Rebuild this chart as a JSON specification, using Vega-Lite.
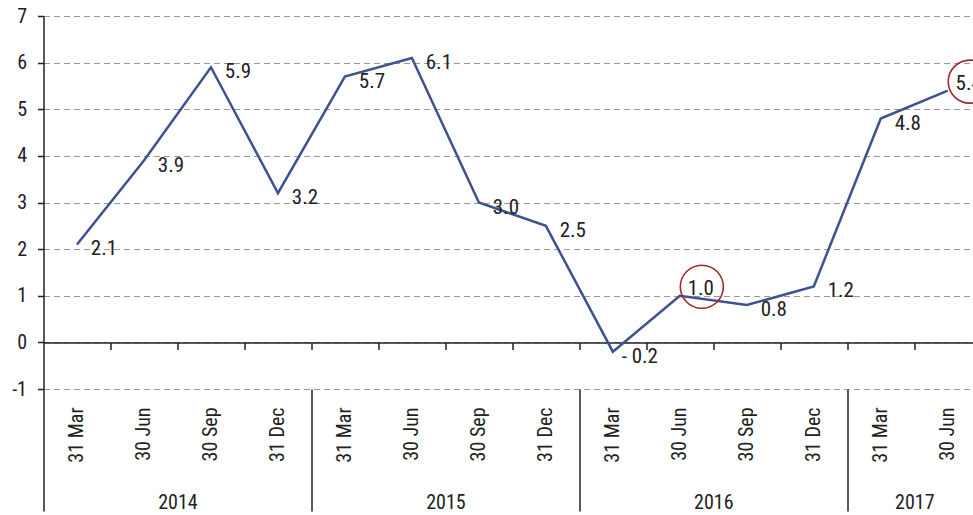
{
  "$schema": "https://vega.github.io/schema/vega-lite/v6.json",
  "width": 929.5,
  "height": 373,
  "autosize": {"type": "none"},
  "padding": {"left": 43.5, "top": 16, "right": 0, "bottom": 126},
  "config": {
    "view": {"stroke": null},
    "font": "Roboto Condensed, Roboto, sans-serif",
    "axis": {"labelFont": "Roboto Condensed, Roboto, sans-serif", "labelColor": "#222222"},
    "text": {"font": "Roboto Condensed, Roboto, sans-serif"}
  },
  "data": {
    "values": [
      {"i": 0, "year": 2014, "quarter": "31 Mar", "value": 2.1, "label": "2.1", "highlight": false},
      {"i": 1, "year": 2014, "quarter": "30 Jun", "value": 3.9, "label": "3.9", "highlight": false},
      {"i": 2, "year": 2014, "quarter": "30 Sep", "value": 5.9, "label": "5.9", "highlight": false},
      {"i": 3, "year": 2014, "quarter": "31 Dec", "value": 3.2, "label": "3.2", "highlight": false},
      {"i": 4, "year": 2015, "quarter": "31 Mar", "value": 5.7, "label": "5.7", "highlight": false},
      {"i": 5, "year": 2015, "quarter": "30 Jun", "value": 6.1, "label": "6.1", "highlight": false},
      {"i": 6, "year": 2015, "quarter": "30 Sep", "value": 3.0, "label": "3.0", "highlight": false},
      {"i": 7, "year": 2015, "quarter": "31 Dec", "value": 2.5, "label": "2.5", "highlight": false},
      {"i": 8, "year": 2016, "quarter": "31 Mar", "value": -0.2, "label": "- 0.2", "highlight": false},
      {"i": 9, "year": 2016, "quarter": "30 Jun", "value": 1.0, "label": "1.0", "highlight": true},
      {"i": 10, "year": 2016, "quarter": "30 Sep", "value": 0.8, "label": "0.8", "highlight": false},
      {"i": 11, "year": 2016, "quarter": "31 Dec", "value": 1.2, "label": "1.2", "highlight": false},
      {"i": 12, "year": 2017, "quarter": "31 Mar", "value": 4.8, "label": "4.8", "highlight": false},
      {"i": 13, "year": 2017, "quarter": "30 Jun", "value": 5.4, "label": "5.4", "highlight": true}
    ]
  },
  "encoding": {
    "y": {
      "field": "value",
      "type": "quantitative",
      "scale": {"domain": [-1, 7], "nice": false, "zero": false},
      "axis": {
        "values": [-1, 0, 1, 2, 3, 4, 5, 6, 7],
        "labelExpr": "'' + datum.value",
        "title": null,
        "grid": true,
        "gridDash": [6, 4],
        "gridColor": "#9a9a9a",
        "gridWidth": 1,
        "domain": true,
        "domainColor": "#222222",
        "domainWidth": 1.5,
        "ticks": true,
        "tickColor": "#222222",
        "tickWidth": 1.5,
        "tickSize": 6,
        "labelFontSize": 20,
        "labelPadding": 11
      }
    }
  },
  "layer": [
    {
      "mark": {"type": "line", "color": "#3f5191", "strokeWidth": 2.5},
      "encoding": {
        "x": {
          "field": "i",
          "type": "quantitative",
          "scale": {"domain": [-0.5, 13.377], "nice": false, "zero": false},
          "axis": {
            "orient": "bottom",
            "title": null,
            "values": [0, 1, 2, 3, 4, 5, 6, 7, 8, 9, 10, 11, 12, 13],
            "labelExpr": "['31 Mar','30 Jun','30 Sep','31 Dec'][datum.value % 4]",
            "labelAngle": 270,
            "labelAlign": "right",
            "labelBaseline": "middle",
            "labelFontSize": 20,
            "labelPadding": 18,
            "labelFlush": false,
            "labelOverlap": false,
            "ticks": false,
            "domain": false,
            "grid": false
          }
        }
      }
    },
    {
      "transform": [{"filter": "!datum.highlight"}],
      "mark": {"type": "text", "fontSize": 21, "color": "#222222", "align": "center", "baseline": "middle", "dx": 27, "dy": 5},
      "encoding": {
        "text": {"field": "label"},
        "x": {
          "field": "i",
          "type": "quantitative",
          "scale": {"domain": [-0.5, 13.377], "nice": false, "zero": false},
          "axis": {
            "orient": "bottom",
            "title": null,
            "offset": -46.6,
            "values": [0.5, 1.5, 2.5, 3.5, 4.5, 5.5, 6.5, 7.5, 8.5, 9.5, 10.5, 11.5, 12.5],
            "labels": false,
            "ticks": true,
            "tickSize": 7,
            "tickColor": "#222222",
            "tickWidth": 1.5,
            "domain": true,
            "domainColor": "#222222",
            "domainWidth": 1.5,
            "grid": false
          }
        }
      }
    },
    {
      "transform": [{"filter": "datum.highlight"}],
      "mark": {"type": "point", "shape": "circle", "filled": false, "size": 1850, "stroke": "#a3262b", "strokeWidth": 1.6, "opacity": 1, "xOffset": 22, "yOffset": -9},
      "encoding": {
        "x": {
          "field": "i",
          "type": "quantitative",
          "scale": {"domain": [-0.5, 13.377], "nice": false, "zero": false},
          "axis": {
            "orient": "bottom",
            "title": null,
            "values": [-0.5, 3.5, 7.5, 11.5],
            "labels": false,
            "ticks": true,
            "tickSize": 122,
            "tickColor": "#222222",
            "tickWidth": 1.5,
            "domain": false,
            "grid": false
          }
        }
      }
    },
    {
      "transform": [{"filter": "datum.highlight"}],
      "mark": {"type": "text", "fontSize": 21, "color": "#222222", "align": "center", "baseline": "middle", "dx": 21, "dy": -7},
      "encoding": {
        "text": {"field": "label"},
        "x": {
          "field": "i",
          "type": "quantitative",
          "scale": {"domain": [-0.5, 13.377], "nice": false, "zero": false},
          "axis": {
            "orient": "bottom",
            "title": null,
            "values": [1.5, 5.5, 9.5, 12.5],
            "labelExpr": "'' + (2014 + floor((datum.value + 0.5) / 4))",
            "labelFontSize": 20,
            "labelPadding": 103,
            "labelFlush": false,
            "labelOverlap": false,
            "ticks": false,
            "domain": false,
            "grid": false
          }
        }
      }
    }
  ],
  "resolve": {"axis": {"x": "independent"}}
}
